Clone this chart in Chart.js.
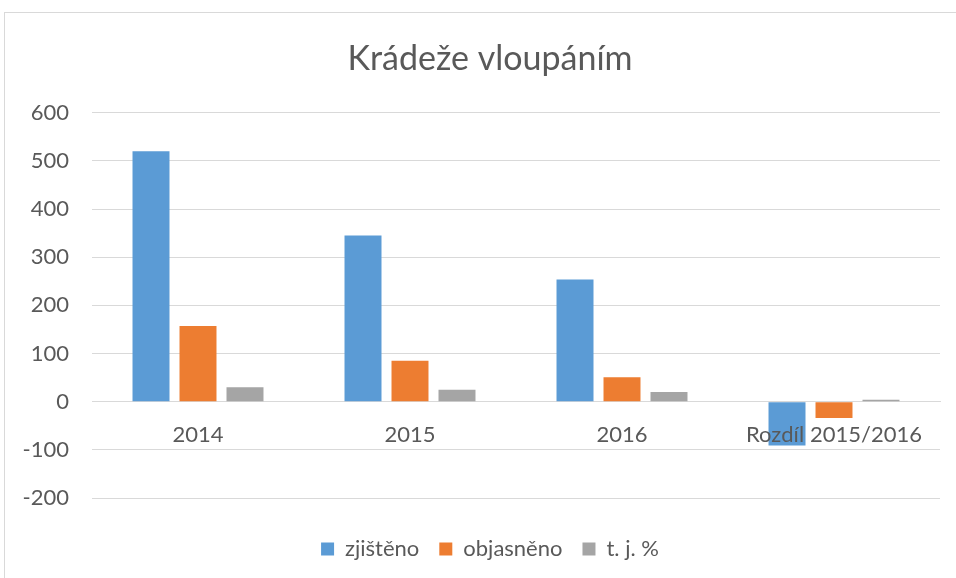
<!DOCTYPE html>
<html>
<head>
<meta charset="utf-8">
<script src="https://cdn.jsdelivr.net/npm/chart.js@4"></script>
<style>
  html, body { margin: 0; padding: 0; background: #fff; overflow: hidden; }
  .frame {
    position: absolute; left: 4px; top: 12px;
    width: 1000px; height: 600px;
    border: 1px solid #d9d9d9;
  }
  .wrap { position: absolute; left: 0; top: 0; width: 980px; height: 578px; }
</style>
</head>
<body>
<div class="frame"></div>
<div class="wrap"><canvas id="chart"></canvas></div>
<script>
  const categories = ["2014", "2015", "2016", "Rozdíl 2015/2016"];
  const zjisteno = [520, 345, 254, -91];
  const objasneno = [157, 85, 51, -34];
  const tjProcent = [30, 25, 20, 4];
  const yTicks = [-200, -100, 0, 100, 200, 300, 400, 500, 600];

  const textColor = "#595959";
  const gridColor = "#d9d9d9";
  const font = "Lato, 'Open Sans', sans-serif";

  // let the y labels overflow into the left padding without being clipped
  const widenYLabels = {
    id: "widenYLabels",
    afterLayout(chart) {
      chart.scales.y.left = 0;
    },
  };

  new Chart(document.getElementById("chart"), {
    type: "bar",
    data: {
      labels: categories,
      datasets: [
        { label: "zjištěno", data: zjisteno, backgroundColor: "#5b9bd5" },
        { label: "objasněno", data: objasneno, backgroundColor: "#ed7d31" },
        { label: "t. j. %", data: tjProcent, backgroundColor: "#a5a5a5" },
      ],
    },
    options: {
      responsive: true,
      maintainAspectRatio: false,
      animation: false,
      categoryPercentage: 0.665,
      barPercentage: 0.787,
      layout: { padding: { left: 40, right: 40, top: 39, bottom: 8 } },
      scales: {
        x: {
          position: { y: 0 },
          grid: { display: false },
          border: { display: true, color: gridColor },
          ticks: { z: 1, color: textColor, font: { family: font, size: 22 }, padding: 12 },
        },
        // empty axis only to keep room between the plot and the legend
        xSpace: {
          type: "category",
          position: "bottom",
          grid: { display: false },
          border: { display: false },
          ticks: { display: false },
          afterFit: (axis) => { axis.height = 20; },
        },
        y: {
          min: yTicks[0],
          max: yTicks[yTicks.length - 1],
          afterBuildTicks: (axis) => { axis.ticks = yTicks.map((v) => ({ value: v })); },
          afterFit: (axis) => { axis.width = 52; },
          grid: { color: gridColor, drawTicks: false },
          border: { display: false },
          ticks: { color: textColor, font: { family: font, size: 22 }, padding: 23 },
        },
      },
      plugins: {
        title: {
          display: true,
          text: "Krádeže vloupáním",
          color: textColor,
          font: { family: font, size: 34, weight: "normal" },
          padding: { top: 0, bottom: 33 },
        },
        legend: {
          position: "bottom",
          labels: {
            color: textColor,
            font: { family: font, size: 22 },
            boxWidth: 13,
            boxHeight: 13,
            padding: 20,
          },
        },
        tooltip: { enabled: false },
      },
    },
    plugins: [widenYLabels],
  });
</script>
</body>
</html>
